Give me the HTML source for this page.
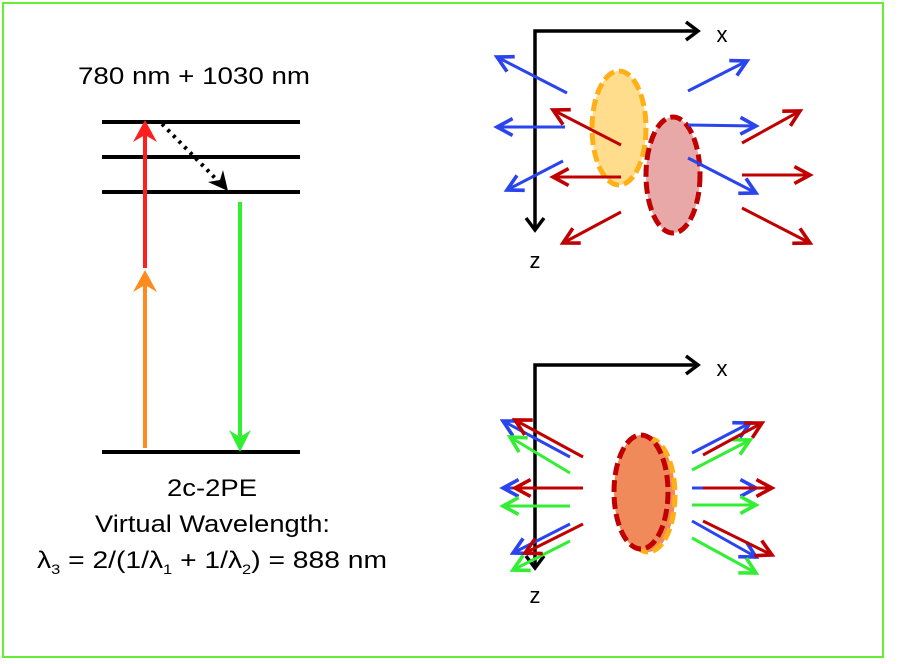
<!DOCTYPE html>
<html><head><meta charset="utf-8"><style>
html,body{margin:0;padding:0;background:#fff}
svg{display:block;font-family:"Liberation Sans",sans-serif}
</style></head><body>
<svg width="901" height="664" viewBox="0 0 901 664" xmlns="http://www.w3.org/2000/svg">
<defs>
<marker id="mb" viewBox="0 0 20 20" markerWidth="24" markerHeight="24" refX="16" refY="10" orient="auto" markerUnits="userSpaceOnUse"><path d="M3,3 L16,10 L3,17" fill="none" stroke="#2a44ee" stroke-width="3"/></marker>
<marker id="mr" viewBox="0 0 20 20" markerWidth="24" markerHeight="24" refX="16" refY="10" orient="auto" markerUnits="userSpaceOnUse"><path d="M3,3 L16,10 L3,17" fill="none" stroke="#c00000" stroke-width="3"/></marker>
<marker id="mg" viewBox="0 0 20 20" markerWidth="24" markerHeight="24" refX="16" refY="10" orient="auto" markerUnits="userSpaceOnUse"><path d="M3,3 L16,10 L3,17" fill="none" stroke="#33ee33" stroke-width="3"/></marker>
</defs>
<rect x="3" y="3" width="880" height="654" fill="none" stroke="#66ee33" stroke-width="2"/>

<g stroke="#000" stroke-width="4">
<line x1="102" y1="122" x2="300" y2="122"/>
<line x1="102" y1="157" x2="300" y2="157"/>
<line x1="102" y1="192" x2="300" y2="192"/>
<line x1="102" y1="452" x2="300" y2="452"/>
</g>
<line x1="145" y1="448" x2="145" y2="282" stroke="#ff8a1e" stroke-width="4"/>
<polygon points="145,270 133,292 145,285 157,292" fill="#ff8a1e"/>
<line x1="145" y1="268" x2="145" y2="134" stroke="#ff1e1e" stroke-width="4"/>
<polygon points="145,120 133,142 145,135 157,142" fill="#ff1e1e"/>
<line x1="240" y1="202" x2="240" y2="440" stroke="#33ee33" stroke-width="4"/>
<polygon points="240,452 229,430 240,437 251,430" fill="#33ee33"/>
<line x1="162" y1="124" x2="220" y2="183" stroke="#000" stroke-width="4" stroke-dasharray="3,5"/>
<polygon points="228,191 223,170 220,180 208,182" fill="#000"/>
<text x="78" y="84" font-size="24" textLength="232" lengthAdjust="spacingAndGlyphs">780 nm + 1030 nm</text>
<text x="167" y="496" font-size="24" textLength="90" lengthAdjust="spacingAndGlyphs">2c-2PE</text>
<text x="95" y="532" font-size="24" textLength="235" lengthAdjust="spacingAndGlyphs">Virtual Wavelength:</text>
<text x="37" y="568" font-size="24" textLength="350" lengthAdjust="spacingAndGlyphs">λ<tspan font-size="14" dy="6">3</tspan><tspan dy="-6"> = 2/(1/λ</tspan><tspan font-size="14" dy="6">1</tspan><tspan dy="-6"> + 1/λ</tspan><tspan font-size="14" dy="6">2</tspan><tspan dy="-6">) = 888 nm</tspan></text>

<polyline points="697,31 535,31 535,228" fill="none" stroke="#000" stroke-width="3.5"/>
<path d="M686,22 L698,31 L686,40" fill="none" stroke="#000" stroke-width="3.5"/>
<path d="M526,218 L535,230 L544,218" fill="none" stroke="#000" stroke-width="3.5"/>
<text x="722" y="42" font-size="22" text-anchor="middle">x</text>
<text x="535" y="268" font-size="22" text-anchor="middle">z</text>
<ellipse cx="619" cy="128" rx="27" ry="57" fill="#ffdd8c" stroke="#ffb019" stroke-width="5" stroke-dasharray="12,5"/>
<ellipse cx="673" cy="175" rx="27" ry="58" fill="#e8a8a8" stroke="#c00000" stroke-width="5" stroke-dasharray="12,5"/>
<g stroke="#2a44ee" stroke-width="3" fill="none" marker-end="url(#mb)">
<line x1="567" y1="93" x2="497" y2="57"/>
<line x1="565" y1="127" x2="497" y2="127"/>
<line x1="563" y1="161" x2="507" y2="190"/>
<line x1="688" y1="91" x2="747" y2="61"/>
<line x1="688" y1="125" x2="756" y2="126"/>
<line x1="688" y1="158" x2="756" y2="193"/>
</g>
<g stroke="#c00000" stroke-width="3" fill="none" marker-end="url(#mr)">
<line x1="621" y1="145" x2="553" y2="110"/>
<line x1="621" y1="177" x2="553" y2="177"/>
<line x1="621" y1="212" x2="563" y2="243"/>
<line x1="742" y1="143" x2="800" y2="111"/>
<line x1="742" y1="175" x2="810" y2="175"/>
<line x1="742" y1="208" x2="810" y2="243"/>
</g>

<polyline points="697,365 535,365 535,565" fill="none" stroke="#000" stroke-width="3.5"/>
<path d="M686,356 L698,365 L686,374" fill="none" stroke="#000" stroke-width="3.5"/>
<path d="M526,556 L535,568 L544,556" fill="none" stroke="#000" stroke-width="3.5"/>
<text x="722" y="376" font-size="22" text-anchor="middle">x</text>
<text x="535" y="603" font-size="22" text-anchor="middle">z</text>
<ellipse cx="648" cy="495" rx="27" ry="57" fill="#f08a5a" stroke="#ffb019" stroke-width="5" stroke-dasharray="12,5"/>
<ellipse cx="641" cy="492" rx="27" ry="57" fill="#f08a5a" stroke="#c00000" stroke-width="5" stroke-dasharray="12,5"/>
<g stroke="#2a44ee" stroke-width="3" fill="none" marker-end="url(#mb)">
<line x1="570" y1="457" x2="503" y2="421"/>
<line x1="565" y1="488" x2="503" y2="488"/>
<line x1="570" y1="524" x2="513" y2="553"/>
<line x1="692" y1="453" x2="750" y2="423"/>
<line x1="692" y1="488" x2="756" y2="488"/>
<line x1="692" y1="521" x2="756" y2="557"/>
</g>
<g stroke="#33ee33" stroke-width="3" fill="none" marker-end="url(#mg)">
<line x1="570" y1="473" x2="510" y2="437"/>
<line x1="570" y1="506" x2="503" y2="506"/>
<line x1="570" y1="541" x2="513" y2="570"/>
<line x1="692" y1="470" x2="750" y2="440"/>
<line x1="692" y1="505" x2="756" y2="505"/>
<line x1="692" y1="538" x2="756" y2="573"/>
</g>
<g stroke="#c00000" stroke-width="3" fill="none" marker-end="url(#mr)">
<line x1="583" y1="457" x2="515" y2="420"/>
<line x1="583" y1="488" x2="515" y2="488"/>
<line x1="583" y1="524" x2="525" y2="553"/>
<line x1="703" y1="455" x2="762" y2="423"/>
<line x1="703" y1="488" x2="772" y2="488"/>
<line x1="703" y1="521" x2="772" y2="555"/>
</g>
</svg>
</body></html>
